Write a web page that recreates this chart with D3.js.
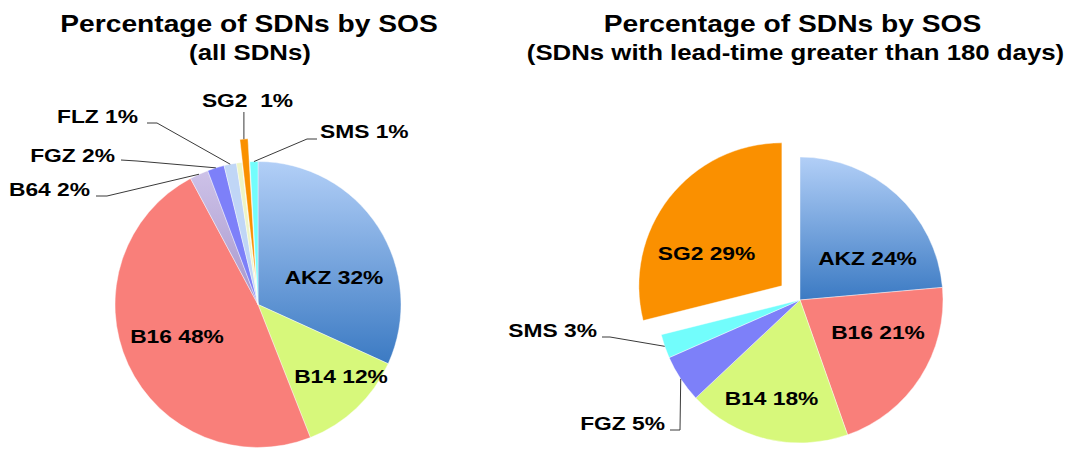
<!DOCTYPE html>
<html>
<head>
<meta charset="utf-8">
<script src="https://cdn.jsdelivr.net/npm/d3@7"></script>
<style>
  body { margin: 0; background: #fff; }
  svg { display: block; }
  text { font-family: "Liberation Sans", Arial, Helvetica, sans-serif; font-weight: bold; fill: #000; }
</style>
</head>
<body>
<svg id="chart" width="1073" height="450"></svg>
<script>
// ---------- DATA ----------
const leftTitle = ["Percentage of SDNs by SOS", "(all SDNs)"];
const leftCategories = ["AKZ", "B14", "B16", "B64", "FGZ", "FLZ", "", "SG2", "SMS"];
const leftValues = [31.7, 12.2, 48.0, 2.1, 1.9, 1.4, 0.6, 0.9, 0.9];

const rightTitle = ["Percentage of SDNs by SOS", "(SDNs with lead-time greater than 180 days)"];
const rightCategories = ["AKZ", "B16", "B14", "FGZ", "SMS", "SG2"];
const rightValues = [23.6, 21.0, 18.4, 5.4, 2.7, 28.9];

// ---------- STYLE / LAYOUT ----------
const colors = {
  AKZ: "url(#gradAKZ)", B14: "#d7f87b", B16: "#f97f7a", B64: "url(#gradB64)",
  FGZ: "#7d80f9", FLZ: "#c0d6f6", "": "#eef5c6", SG2: "#fa9000", SMS: "#72fdfc"
};
const SX = 1.2; // horizontal text stretch seen in the reference
const svg = d3.select("#chart");
const defs = svg.append("defs");

function grad(id, c0, c1) {
  const g = defs.append("linearGradient").attr("id", id)
    .attr("x1", 0).attr("y1", 0).attr("x2", 0).attr("y2", 1);
  g.append("stop").attr("offset", "0%").attr("stop-color", c0);
  g.append("stop").attr("offset", "100%").attr("stop-color", c1);
}
grad("gradAKZ", "#b2cff7", "#3b7ac3");
grad("gradB64", "#cdc2e8", "#a796cb");

function addText(str, x, y, size, anchor) {
  svg.append("text")
    .attr("transform", `translate(${x},${y}) scale(${SX},1)`)
    .attr("text-anchor", anchor)
    .style("font-size", size + "px")
    .text(str);
}

function drawPie(cfg) {
  const total = d3.sum(cfg.values);
  const data = cfg.categories.map((c, i) => ({ cat: c, value: cfg.values[i] }));
  const arcs = d3.pie().sort(null).value(d => d.value)(data);
  const arc = d3.arc().innerRadius(0).outerRadius(cfg.r);
  arcs.forEach(a => {
    a.mid = (a.startAngle + a.endAngle) / 2;
    const ex = cfg.explode[a.data.cat] || 0;
    a.off = [ex * Math.sin(a.mid), -ex * Math.cos(a.mid)];
    a.edge = [cfg.cx + a.off[0] + cfg.r * Math.sin(a.mid), cfg.cy + a.off[1] - cfg.r * Math.cos(a.mid)];
    a.label = a.data.cat + (cfg.sep[a.data.cat] || " ") + Math.round(a.data.value / total * 100) + "%";
  });

  const g = svg.append("g").attr("transform", `translate(${cfg.cx},${cfg.cy})`);
  g.selectAll("path").data(arcs).join("path")
    .attr("d", arc)
    .attr("transform", a => `translate(${a.off[0]},${a.off[1]})`)
    .attr("fill", a => colors[a.data.cat])
    .attr("stroke", "#ffffff")
    .attr("stroke-opacity", 0.6)
    .attr("stroke-width", 0.7);

  // titles
  addText(cfg.title[0], cfg.titleX[0], 32, 23.5, "middle");
  addText(cfg.title[1], cfg.titleX[1], 60, 21.5, "middle");

  const line = d3.line();
  arcs.forEach(a => {
    const c = a.data.cat;
    if (cfg.inside[c]) {
      const p = cfg.inside[c];
      addText(a.label, p[0], p[1], 19, "middle");
    } else if (cfg.outside[c]) {
      const o = cfg.outside[c];
      let pts;
      if (o.vertical) pts = [[a.edge[0], o.top], a.edge];
      else pts = o.pts.concat([a.edge]);
      svg.append("path").attr("d", line(pts))
        .attr("fill", "none").attr("stroke", "#3a3a3a").attr("stroke-width", 1);
      addText(a.label, o.x, o.y, 19, o.anchor);
    }
  });
}

drawPie({
  title: leftTitle, titleX: [249, 250],
  categories: leftCategories, values: leftValues,
  cx: 258, cy: 304.5, r: 143,
  explode: { SG2: 23 },
  sep: { SG2: "\u00a0 " },
  inside: { AKZ: [334, 284], B16: [177, 343], B14: [341, 383] },
  outside: {
    SG2: { x: 247.5, y: 107, anchor: "middle", vertical: true, top: 112 },
    SMS: { x: 320, y: 138, anchor: "start", pts: [[317, 139], [307, 139]] },
    FLZ: { x: 138, y: 123, anchor: "end", pts: [[147, 123], [157, 123]] },
    FGZ: { x: 115, y: 162, anchor: "end", pts: [[121, 160], [137, 161]] },
    B64: { x: 90, y: 196, anchor: "end", pts: [[96, 196], [107, 196]] }
  }
});

drawPie({
  title: rightTitle, titleX: [792.5, 795.5],
  categories: rightCategories, values: rightValues,
  cx: 800, cy: 300, r: 143,
  explode: { SG2: 23 },
  sep: {},
  inside: { SG2: [706.5, 260], AKZ: [867.5, 265], B16: [878, 339], B14: [771.5, 405] },
  outside: {
    SMS: { x: 597, y: 337, anchor: "end", pts: [[602, 337], [610, 337]] },
    FGZ: { x: 665, y: 430, anchor: "end", pts: [[670, 430], [680, 430]] }
  }
});
</script>
</body>
</html>
